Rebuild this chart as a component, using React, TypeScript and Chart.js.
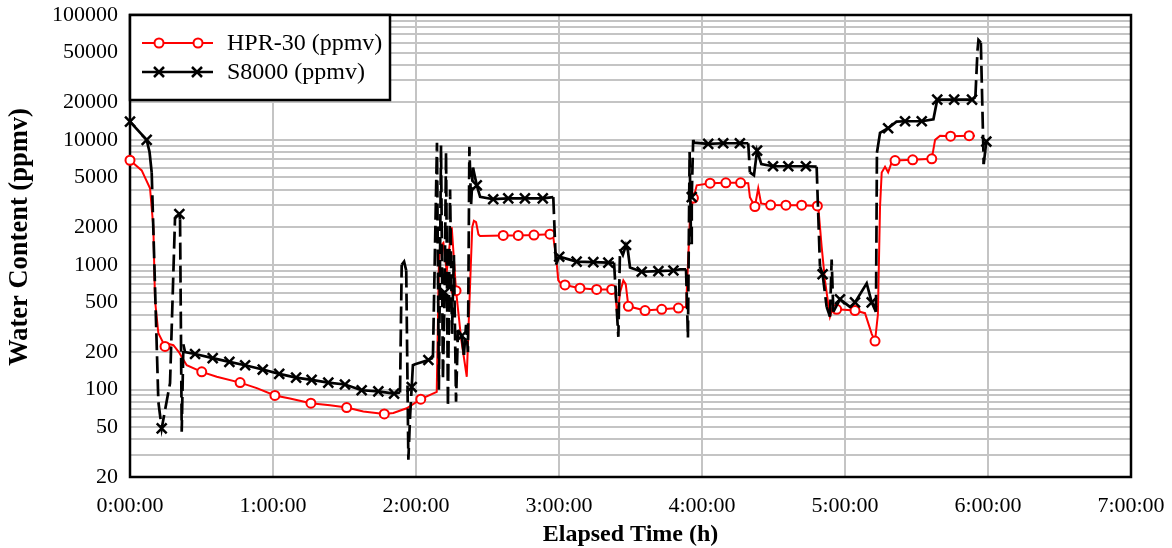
import React, { useEffect, useRef } from "react";
import { Chart, registerables } from "chart.js";

Chart.register(...registerables);

// HPR-30 readings: elapsed minutes and water content (ppmv)
const hprMinutes = [
  0, 4.9, 8.4, 9.8, 10.5, 11.9, 14.7, 16.5, 18.2, 20.5, 21.7, 23.8, 30.1, 36.4, 46.2, 53.2,
  60.8, 67.1, 75.9, 83.9, 90.9, 97.9, 106.7, 110.5, 116.1, 122.0, 128.7, 129.6, 130.1, 131.5,
  132.9, 134.2, 135.0, 136.8, 139.0, 141.3, 142.7, 143.6, 144.3, 145.2, 146.2, 146.9, 156.6,
  162.9, 169.5, 176.2, 177.4, 178.7, 179.7, 181.0, 182.5, 188.8, 195.8, 202.1, 203.5, 204.5,
  205.6, 207.0, 208.0, 209.1, 216.1, 223.1, 230.1, 233.3, 234.1, 235.0, 236.4, 237.8, 243.4,
  250.0, 256.2, 259.4, 260.1, 262.2, 263.6, 264.8, 268.8, 275.2, 281.8, 288.4, 288.8, 290.2,
  291.6, 293.7, 295.1, 296.5, 304.2, 308.4, 311.2, 312.6, 313.8, 314.7, 315.4, 316.8, 318.1,
  319.7, 321.0, 328.4, 336.4, 337.8, 339.9, 344.3, 352.1, 354.5,
];
const hprPpmv = [
  6870, 5700, 4100, 2000, 520, 283, 222, 232, 227, 200, 183, 157, 139, 127, 114, 103,
  90, 85, 78, 75, 72, 67, 64, 65, 71, 84, 96, 1000, 1400, 1500,
  880, 1500, 2000, 620, 250, 127, 700, 2000, 2250, 2200, 1750, 1700, 1720,
  1720, 1730, 1760, 1760, 1200, 750, 700, 690, 650, 635, 635, 630, 385,
  600, 750, 700, 465, 430, 440, 450, 460, 1000, 2500, 3420, 4330, 4500,
  4530, 4530, 4500, 3480, 2930, 4100, 3100, 3010, 3000, 3000, 2960, 2900, 1400,
  750, 385, 470, 440, 430, 410, 280, 245, 400, 2930, 5480, 6100, 5500,
  6700, 6830, 6930, 7050, 10000, 10800, 10700, 10800, 10800,
];
// indices of the HPR-30 readings shown with a circle marker
const hprMarked = [
  0, 6, 12, 14, 16, 18, 20, 22, 25, 33, 42, 43, 44, 45, 50, 51, 52, 53, 59, 60, 61, 62,
  66, 68, 69, 70, 73, 76, 77, 78, 79, 85, 86, 89, 96, 97, 98, 101, 102,
];

// S8000 readings: elapsed minutes and water content (ppmv)
const s8Minutes = [
  0, 7.0, 8.2, 9.1, 11.9, 13.3, 16.8, 18.9, 20.7, 21.0, 21.7, 22.4, 23.1, 27.3, 34.7, 41.7,
  48.3, 55.7, 62.6, 69.7, 76.2, 83.2, 90.2, 97.2, 104.2, 110.8, 113.3, 114.0, 115.0, 115.9,
  116.8, 117.5, 118.2, 118.7, 119.6, 125.2, 127.1, 128.8, 129.6, 130.5, 131.3, 132.0, 132.6,
  133.4, 134.3, 135.1, 135.9, 136.8, 137.6, 139.2, 140.1, 141.0, 141.8, 142.4, 143.1, 143.9,
  145.5, 146.9, 152.4, 158.7, 165.7, 173.2, 177.6, 178.7, 180.1, 187.4, 194.4, 200.7, 203.1,
  204.9, 205.6, 206.8, 208.1, 208.9, 209.8, 214.7, 221.7, 228.0, 230.8, 233.3, 234.1, 234.8,
  235.4, 235.7, 236.3, 236.7, 242.6, 248.9, 255.9, 259.4, 260.1, 261.8, 263.1, 264.9, 269.8,
  276.2, 283.6, 288.1, 289.5, 290.6, 292.3, 293.7, 294.4, 295.1, 297.9, 302.1, 304.2, 309.1,
  311.2, 313.0, 313.4, 314.7, 318.1, 321.6, 325.2, 332.2, 337.1, 338.7, 345.8, 353.3, 354.7,
  355.6, 356.0, 357.0, 358.2, 359.3,
];
const s8Ppmv = [
  14000, 10000, 8000, 5500, 80, 49, 113, 2400, 2550, 2300, 46, 230, 200, 193, 179, 167,
  157, 145, 134, 125, 120, 114, 110, 99, 97, 93, 95, 1000, 1060, 900,
  27.5, 60, 105, 157, 160, 173, 180, 9500, 100, 9000, 120, 600, 8000,
  73, 4000, 280, 1200, 80, 300, 270, 190, 330, 200, 8800, 3000, 6000,
  4330, 3500, 3350, 3400, 3400, 3400, 3480, 1000, 1160, 1060, 1050, 1040, 1040,
  265, 1330, 1200, 1440, 1300, 950, 880, 890, 900, 920, 920, 260, 8000,
  1500, 3480, 10000, 9500, 9300, 9400, 9400, 9400, 5500, 5200, 8200, 6400, 6150,
  6150, 6150, 6100, 970, 840, 460, 385, 1100, 420, 530, 460, 500, 710,
  500, 420, 7900, 11400, 12400, 14000, 14100, 14100, 14600, 21000, 21000, 21000, 22000,
  52000, 63000, 60000, 6400, 9700,
];
// indices of the S8000 readings shown with a cross marker
const s8Marked = [
  0, 1, 5, 8, 13, 14, 15, 16, 17, 18, 19, 20, 21, 22, 23, 24, 25, 32, 35, 41, 49, 56, 58,
  59, 60, 61, 64, 65, 66, 67, 72, 75, 76, 77, 83, 86, 87, 88, 92, 94, 95, 96, 99, 104, 106,
  108, 112, 114, 115, 117, 118, 119, 125,
];

// axis ticks
const xTickMinutes = [0, 60, 120, 180, 240, 300, 360, 420];
const xTickLabels = ["0:00:00", "1:00:00", "2:00:00", "3:00:00", "4:00:00", "5:00:00", "6:00:00", "7:00:00"];
const yLabelled = [20, 50, 100, 200, 500, 1000, 2000, 5000, 10000, 20000, 50000, 100000];
const yDecades = [10, 100, 1000, 10000];

const yGridValues: number[] = [];
yDecades.forEach((d) => {
  for (let m = 1; m <= 9; m++) {
    const v = m * d;
    if (v >= 20 && v <= 100000) yGridValues.push(v);
  }
});
yGridValues.push(100000);

const SERIF = '"Liberation Serif", "Times New Roman", serif';
const RED = "#ff0000";
const BLACK = "#000000";

const framePlugin = {
  id: "plotFrame",
  beforeDatasetsDraw(chart: any) {
    const { ctx, chartArea } = chart;
    ctx.save();
    ctx.lineWidth = 2.5;
    ctx.strokeStyle = BLACK;
    ctx.strokeRect(chartArea.left, chartArea.top, chartArea.right - chartArea.left, chartArea.bottom - chartArea.top);
    ctx.restore();
  },
};

// vertical axis title, set slightly above the plot's middle
const yTitlePlugin = {
  id: "yTitle",
  afterDraw(chart: any) {
    const { ctx, chartArea } = chart;
    ctx.save();
    ctx.translate(20, (chartArea.top + chartArea.bottom) / 2 - 9);
    ctx.rotate(-Math.PI / 2);
    ctx.fillStyle = BLACK;
    ctx.font = `bold 26.5px ${SERIF}`;
    ctx.textAlign = "center";
    ctx.textBaseline = "middle";
    ctx.fillText("Water Content (ppmv)", 0, 0);
    ctx.restore();
  },
};

function drawCross(ctx: CanvasRenderingContext2D, x: number, y: number, h: number) {
  ctx.beginPath();
  ctx.moveTo(x - h, y - h);
  ctx.lineTo(x + h, y + h);
  ctx.moveTo(x + h, y - h);
  ctx.lineTo(x - h, y + h);
  ctx.stroke();
}

const legendPlugin = {
  id: "seriesLegend",
  afterDatasetsDraw(chart: any) {
    const { ctx, chartArea } = chart;
    const x0 = chartArea.left;
    const y0 = chartArea.top;
    const w = 260;
    const h = 85;
    ctx.save();
    ctx.fillStyle = "#ffffff";
    ctx.fillRect(x0, y0, w, h);
    ctx.lineWidth = 2.5;
    ctx.strokeStyle = BLACK;
    ctx.strokeRect(x0, y0, w, h);

    // HPR-30 entry
    const ry = y0 + 28;
    ctx.strokeStyle = RED;
    ctx.lineWidth = 2;
    ctx.beginPath();
    ctx.moveTo(x0 + 12, ry);
    ctx.lineTo(x0 + 83, ry);
    ctx.stroke();
    [x0 + 29, x0 + 68].forEach((cx) => {
      ctx.beginPath();
      ctx.arc(cx, ry, 4.5, 0, Math.PI * 2);
      ctx.fillStyle = "#ffffff";
      ctx.fill();
      ctx.stroke();
    });

    // S8000 entry
    const by = y0 + 57;
    ctx.strokeStyle = BLACK;
    ctx.lineWidth = 2.5;
    ctx.beginPath();
    ctx.moveTo(x0 + 12, by);
    ctx.lineTo(x0 + 83, by);
    ctx.stroke();
    [x0 + 29, x0 + 67].forEach((cx) => drawCross(ctx, cx, by, 5));

    ctx.fillStyle = BLACK;
    ctx.font = `24px ${SERIF}`;
    ctx.textBaseline = "middle";
    ctx.textAlign = "left";
    ctx.fillText("HPR-30 (ppmv)", x0 + 97, ry + 1);
    ctx.fillText("S8000 (ppmv)", x0 + 97, by + 1);
    ctx.restore();
  },
};

export default function App() {
  const canvasRef = useRef<HTMLCanvasElement | null>(null);

  useEffect(() => {
    const canvas = canvasRef.current;
    if (!canvas) return;
    const hprSet = new Set(hprMarked);
    const s8Set = new Set(s8Marked);

    const chart = new Chart(canvas, {
      type: "line",
      data: {
        datasets: [
          {
            label: "S8000 (ppmv)",
            data: s8Minutes.map((m, i) => ({ x: m, y: s8Ppmv[i] })),
            borderColor: BLACK,
            backgroundColor: BLACK,
            borderWidth: 2.7,
            tension: 0,
            fill: false,
            clip: false as any,
            pointStyle: "crossRot",
            pointBorderColor: BLACK,
            pointBorderWidth: 2.5,
            pointRadius: (c: any) => (s8Set.has(c.dataIndex) ? 7 : 0),
            pointHoverRadius: 0,
            segment: {
              borderDash: (c: any) => {
                const dx = Math.abs(c.p1.x - c.p0.x);
                const dy = Math.abs(c.p1.y - c.p0.y);
                return dy > 26 && dy > 2 * dx ? [17, 6] : undefined;
              },
            },
          },
          {
            label: "HPR-30 (ppmv)",
            data: hprMinutes.map((m, i) => ({ x: m, y: hprPpmv[i] })),
            borderColor: RED,
            backgroundColor: "#ffffff",
            borderWidth: 2,
            tension: 0,
            fill: false,
            clip: false as any,
            pointStyle: "circle",
            pointBorderColor: RED,
            pointBackgroundColor: "#ffffff",
            pointBorderWidth: 2,
            pointRadius: (c: any) => (hprSet.has(c.dataIndex) ? 4.5 : 0),
            pointHoverRadius: 0,
          },
        ],
      },
      options: {
        responsive: false,
        animation: false,
        devicePixelRatio: 1,
        events: [],
        layout: { autoPadding: false, padding: { top: 15, right: 41, left: 0, bottom: 0 } },
        plugins: {
          legend: { display: false },
          tooltip: { enabled: false },
        },
        scales: {
          x: {
            type: "linear",
            min: 0,
            max: 420,
            afterBuildTicks: (scale: any) => {
              scale.ticks = xTickMinutes.map((v) => ({ value: v }));
            },
            afterFit: (scale: any) => {
              scale.height = 71;
              scale.paddingLeft = 0;
              scale.paddingRight = 0;
            },
            ticks: {
              autoSkip: false,
              maxRotation: 0,
              padding: 16,
              color: BLACK,
              font: { family: SERIF, size: 22 },
              callback: (v: any) => {
                const i = xTickMinutes.indexOf(Number(v));
                return i >= 0 ? xTickLabels[i] : "";
              },
            },
            grid: { color: "#c4c4c4", lineWidth: 2, drawTicks: false },
            border: { display: false },
            title: {
              display: true,
              text: "Elapsed Time (h)",
              color: BLACK,
              font: { family: SERIF, size: 24, weight: "bold", lineHeight: 1 },
              padding: { top: 0, bottom: 1 },
            },
          },
          y: {
            type: "logarithmic",
            min: 20,
            max: 100000,
            afterBuildTicks: (scale: any) => {
              scale.ticks = yGridValues.map((v) => ({ value: v }));
            },
            afterFit: (scale: any) => {
              scale.width = 130;
              scale.paddingTop = 0;
              scale.paddingBottom = 0;
            },
            ticks: {
              autoSkip: false,
              padding: 12,
              color: BLACK,
              font: { family: SERIF, size: 22 },
              callback: (v: any) => (yLabelled.includes(Number(v)) ? String(v) : ""),
            },
            grid: { color: "#c4c4c4", lineWidth: 2, drawTicks: false },
            border: { display: false },
            title: { display: false },
          },
        },
      } as any,
      plugins: [framePlugin, legendPlugin, yTitlePlugin],
    });

    return () => chart.destroy();
  }, []);

  return (
    <div style={{ position: "absolute", left: 0, top: 0, width: 1172, height: 548, background: "#ffffff" }}>
      <canvas ref={canvasRef} width={1172} height={548} />
    </div>
  );
}
